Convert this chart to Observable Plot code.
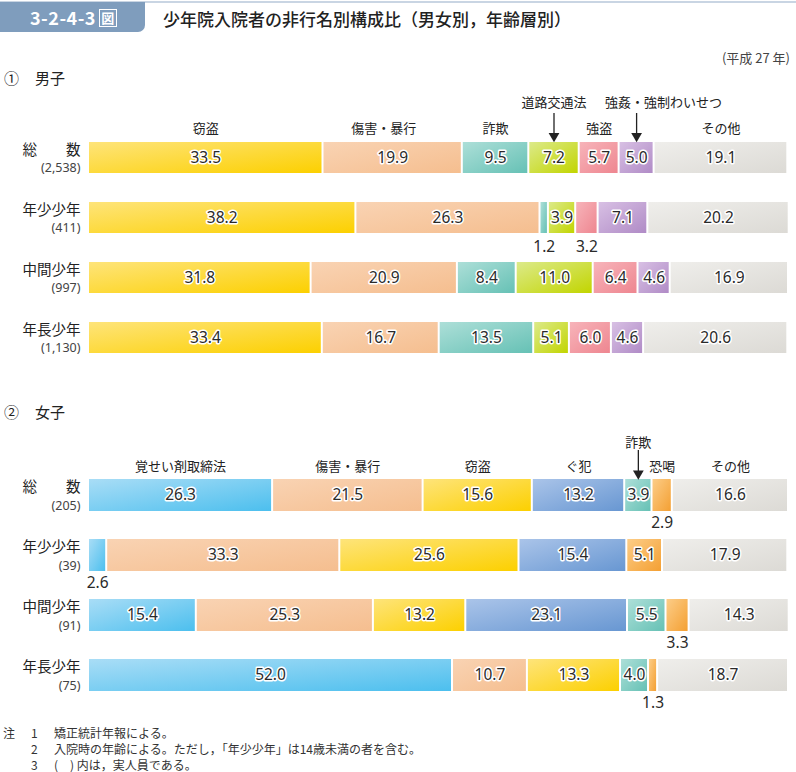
<!DOCTYPE html>
<html><head><meta charset="utf-8">
<script src="https://cdn.jsdelivr.net/npm/d3@7"></script>
<script src="https://cdn.jsdelivr.net/npm/@observablehq/plot@0.6"></script>
<style>
body{margin:0;width:796px;height:772px;background:#fff;font-family:"Noto Sans CJK JP","Noto Sans",sans-serif;color:#333;position:relative;overflow:hidden}
.topline{position:absolute;left:0;top:1px;width:796px;height:2px;background:#c9d5e3}
.tag{position:absolute;left:0;top:2px;width:145px;height:30px;background:#7f9dbd;border-bottom-right-radius:7px;color:#fff;font-weight:bold;font-size:18px;line-height:30px;letter-spacing:0.5px}
.tag span.t{position:absolute;left:30px;top:0}
.tag span.z{position:absolute;left:99px;top:7px;width:16px;height:16px;border:1.5px solid #fff;font-size:13px;line-height:16px;text-align:center;font-weight:bold;box-sizing:content-box}
.title{position:absolute;left:163px;top:5px;font-size:17px;font-weight:500;color:#222;line-height:28px}
.year{position:absolute;right:6px;top:48px;font-size:13px;color:#444;line-height:20px}
.sec{position:absolute;left:4px;font-size:15px;color:#222;line-height:20px}
.sec b{font-weight:normal;position:absolute;left:31px;top:0;white-space:nowrap}
.panel{position:absolute;left:0}
.notes{position:absolute;left:3px;top:726px;font-size:12px;color:#333;line-height:14px}
.notes div{position:relative;height:16px;white-space:nowrap}
.notes .a{position:absolute;left:0}
.notes .n{position:absolute;left:28px}
.notes .x{position:absolute;left:51px}
</style></head>
<body>
<div class="topline"></div>
<div class="tag"><span class="t">3-2-4-3</span><span class="z">図</span></div>
<div class="title">少年院入院者の非行名別構成比（男女別，年齢層別）</div>
<div class="year">(平成 27 年)</div>
<div class="sec" style="top:68px">①<b>男子</b></div>
<div id="male" class="panel" style="top:94px"></div>
<div class="sec" style="top:402px">②<b>女子</b></div>
<div id="female" class="panel" style="top:429px"></div>
<div class="notes">
<div><span class="a">注</span><span class="n">1</span><span class="x">矯正統計年報による。</span></div>
<div><span class="n">2</span><span class="x">入院時の年齢による。ただし，「年少少年」は14歳未満の者を含む。</span></div>
<div><span class="n">3</span><span class="x">(　) 内は，実人員である。</span></div>
</div>
<script>
// ---- data ----
const rows = ["総数", "年少少年", "中間少年", "年長少年"];
const rowNames = ["総　　数", "年少少年", "中間少年", "年長少年"];
const maleCounts = ["(2,538)", "(411)", "(997)", "(1,130)"];
const femaleCounts = ["(205)", "(39)", "(91)", "(75)"];

const maleCats = ["窃盗", "傷害・暴行", "詐欺", "道路交通法", "強盗", "強姦・強制わいせつ", "その他"];
const maleTotal  = [33.5, 19.9, 9.5, 7.2, 5.7, 5.0, 19.1];
const maleYoung  = [38.2, 26.3, 1.2, 3.9, 3.2, 7.1, 20.2];
const maleMiddle = [31.8, 20.9, 8.4, 11.0, 6.4, 4.6, 16.9];
const maleOlder  = [33.4, 16.7, 13.5, 5.1, 6.0, 4.6, 20.6];

const femaleCats = ["覚せい剤取締法", "傷害・暴行", "窃盗", "ぐ犯", "詐欺", "恐喝", "その他"];
const femaleTotal  = [26.3, 21.5, 15.6, 13.2, 3.9, 2.9, 16.6];
const femaleYoung  = [2.6, 33.3, 25.6, 15.4, 0, 5.1, 17.9];
const femaleMiddle = [15.4, 25.3, 13.2, 23.1, 5.5, 3.3, 14.3];
const femaleOlder  = [52.0, 10.7, 13.3, 0, 4.0, 1.3, 18.7];

// gradient colours per category [light, dark]
const maleColors = [["#fee47a", "#fcd000"], ["#f9d3b3", "#f5be8f"], ["#addfd8", "#66c1b5"], ["#dcea8a", "#c2d500"], ["#f7b4ba", "#ee8690"], ["#d8c0e4", "#b08bc6"], ["#efeeeb", "#dcdad5"]];
const femaleColors = [["#a9ddf6", "#4cbfee"], ["#f9d3b3", "#f5be8f"], ["#fee47a", "#fcd000"], ["#aac4e9", "#6897d2"], ["#addfd8", "#66c1b5"], ["#fccd88", "#f4a033"], ["#efeeeb", "#dcdad5"]];

function buildTable(valuesByRow, cats) {
  const out = [];
  valuesByRow.forEach((vals, i) => {
    let acc = 0;
    vals.forEach((v, j) => {
      out.push({row: rows[i], cat: cats[j], value: v, x1: acc, x2: acc + v, mid: acc + v / 2, idx: j});
      acc += v;
    });
  });
  return out;
}

const FONT = "'Noto Sans CJK JP','Noto Sans',sans-serif";

function panel(opts) {
  const {data, prefix, colors, counts, height, marginTop, marginBottom, paddingInner, arrows, headerDy, arrowDy, belowDy, headerDx} = opts;
  const segs = data.filter(d => d.value > 0);
  const total = data.filter(d => d.row === "総数");
  const arrowCats = arrows.map(a => a.cat);
  const marks = [
    Plot.barX(segs, {x1: "x1", x2: "x2", y: "row", fill: d => `url(#${prefix}${d.idx})`, insetLeft: 1, insetRight: 1}),
    Plot.text(segs.filter(d => d.value >= 3.5), {x: "mid", y: "row", text: d => d.value.toFixed(1), fontSize: 15.5, fill: "#2a2a2a", stroke: "white", strokeWidth: 3, fontFamily: "'Noto Sans',sans-serif"}),
    Plot.text(segs.filter(d => d.value < 3.5), {x: "mid", y: "row", text: d => d.value.toFixed(1), dy: belowDy, fontSize: 15.5, fill: "#2a2a2a", fontFamily: "'Noto Sans',sans-serif"}),
    Plot.text(rows, {x: () => 0, y: d => d, text: (d, i) => rowNames[i], textAnchor: "end", dx: -8, dy: -8, fontSize: 14.5, fill: "#222"}),
    Plot.text(rows, {x: () => 0, y: d => d, text: (d, i) => counts[i], textAnchor: "end", dx: -8, dy: 10, fontSize: 12.5, fill: "#444", fontFamily: "'Noto Sans',sans-serif"})
  ];
  for (const d of total.filter(d => !arrowCats.includes(d.cat))) {
    marks.push(Plot.text([d], {x: "mid", y: "row", text: "cat", dy: headerDy, dx: headerDx[d.cat] || 0, fontSize: 13, fill: "#222"}));
  }
  for (const a of arrows) {
    const sel = total.filter(d => d.cat === a.cat);
    marks.push(Plot.text(sel, {x: "mid", y: "row", text: "cat", dy: arrowDy, dx: a.dx, fontSize: 13, fill: "#222"}));
    marks.push(Plot.tickX(sel, {x: "mid", y: "row", insetTop: -29, insetBottom: 38, stroke: "#222", strokeWidth: 1.3}));
    marks.push(Plot.dot(sel, {x: "mid", y: "row", symbol: "triangle", rotate: 180, r: 4, fill: "#222", stroke: null, dy: -22}));
  }
  const svg = Plot.plot({
    width: 796, height, marginLeft: 88, marginRight: 8, marginTop, marginBottom,
    x: {domain: [0, 100], axis: null},
    y: {domain: rows, axis: null, paddingInner, paddingOuter: 0},
    color: {type: "identity"},
    style: {fontFamily: FONT, background: "transparent", overflow: "visible"},
    marks
  });
  const defs = d3.select(svg).insert("defs", ":first-child");
  colors.forEach((c, i) => {
    const g = defs.append("linearGradient").attr("id", prefix + i).attr("x1", 0).attr("y1", 0).attr("x2", 1).attr("y2", 1);
    g.append("stop").attr("offset", "0%").attr("stop-color", c[0]);
    g.append("stop").attr("offset", "100%").attr("stop-color", c[1]);
  });
  return svg;
}

const maleData = buildTable([maleTotal, maleYoung, maleMiddle, maleOlder], maleCats);
const femaleData = buildTable([femaleTotal, femaleYoung, femaleMiddle, femaleOlder], femaleCats);

document.getElementById("male").append(panel({
  data: maleData, prefix: "gm", colors: maleColors, counts: maleCounts,
  height: 275, marginTop: 48, marginBottom: 15, paddingInner: 0.477,
  arrows: [{cat: "道路交通法", dx: 0}, {cat: "強姦・強制わいせつ", dx: 27}],
  headerDy: -29, arrowDy: -55, belowDy: 29, headerDx: {"傷害・暴行": -9}
}));
document.getElementById("female").append(panel({
  data: femaleData, prefix: "gf", colors: femaleColors, counts: femaleCounts,
  height: 286, marginTop: 49, marginBottom: 23, paddingInner: 0.471,
  arrows: [{cat: "詐欺", dx: 0}],
  headerDy: -29, arrowDy: -53, belowDy: 28, headerDx: {}
}));
</script>
</body></html>
